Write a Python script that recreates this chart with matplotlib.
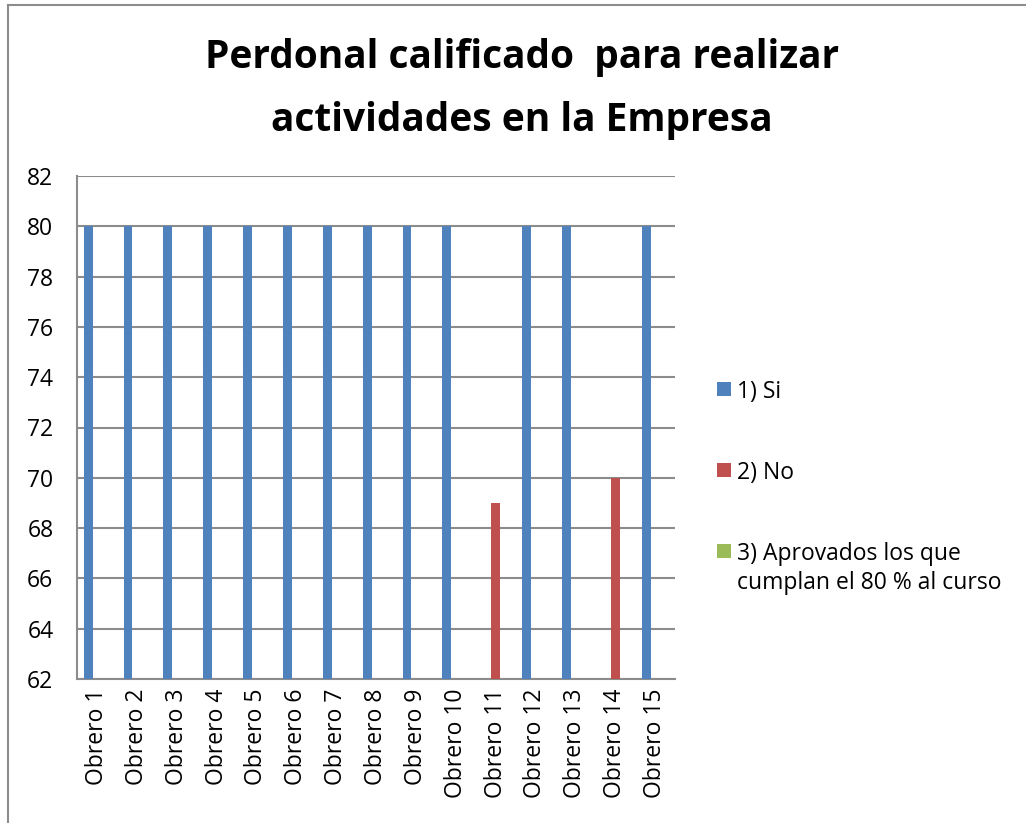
import numpy as np
import matplotlib
matplotlib.use("Agg")
import matplotlib.pyplot as plt
from matplotlib.patches import Rectangle
from matplotlib.lines import Line2D

categories = [f"Obrero {i}" for i in range(1, 16)]
si_values = [80, 80, 80, 80, 80, 80, 80, 80, 80, 80, np.nan, 80, 80, np.nan, 80]
no_values = [np.nan] * 10 + [69, np.nan, np.nan, 70, np.nan]
aprob_values = [np.nan] * 15
series_names = ["1) Si", "2) No", "3) Aprovados los que\ncumplan el 80 % al curso"]
colors = ["#4F81BD", "#C0504D", "#9BBB59"]
title = "Perdonal calificado  para realizar\nactividades en la Empresa"
yticks = list(range(62, 83, 2))

plt.rcParams['font.family'] = ['Open Sans', 'DejaVu Sans']

fig = plt.figure(figsize=(10.26, 8.23), dpi=100)
ax = fig.add_axes([77/1026, 1 - 679/823, (675-77)/1026, (679-176)/823])

x = np.arange(len(categories))
w = 1 / 4.5
for k, (vals, col, name) in enumerate(zip([si_values, no_values, aprob_values], colors, series_names)):
    ax.bar(x + (k - 1) * w, vals, width=w, color=col, zorder=3, label=name)

ax.set_xlim(-0.5, len(categories) - 0.5)
ax.set_ylim(62, 82)
ax.set_yticks(yticks)
ax.set_yticklabels([str(t) for t in yticks], fontsize=16.5)
ax.set_xticks(x)
ax.set_xticklabels(categories, rotation=90, fontsize=16.5, va='top', ha='center')
ax.tick_params(axis='y', length=0, pad=17)
ax.tick_params(axis='x', length=0, pad=7)
ax.yaxis.grid(True, color='#8c8c8c', linewidth=1.5, zorder=0)
ax.set_axisbelow(True)
for s in ['top', 'right']:
    ax.spines[s].set_visible(False)
for s in ['left', 'bottom']:
    ax.spines[s].set_color('#8c8c8c')
    ax.spines[s].set_linewidth(1.5)

# legend (drawn in Excel style: square aligned with first line of each entry)
W, H = 1026, 823
legend_first_line_y = [389, 470, 551]
for name, col, yc in zip(series_names, colors, legend_first_line_y):
    fig.add_artist(Rectangle((717/W, 1 - (yc + 7)/H), 14/W, 14/H,
                             transform=fig.transFigure, facecolor=col, edgecolor='none'))
    fig.text(737/W, 1 - (yc - 9)/H, name, ha='left', va='top', fontsize=16.5,
             linespacing=1.28)

fig.text(522/W, 1 - 89/H, title, ha='center', va='center', fontsize=28,
         fontweight='bold', linespacing=1.8)

# outer chart frame
fig.add_artist(Line2D([8/W, 8/W], [0, 1 - 5/H], transform=fig.transFigure,
                      color='#8c8c8c', linewidth=1.5))
fig.add_artist(Line2D([8/W, 1], [1 - 5/H, 1 - 5/H], transform=fig.transFigure,
                      color='#8c8c8c', linewidth=1.5))

fig.savefig("out.png", dpi=100)
